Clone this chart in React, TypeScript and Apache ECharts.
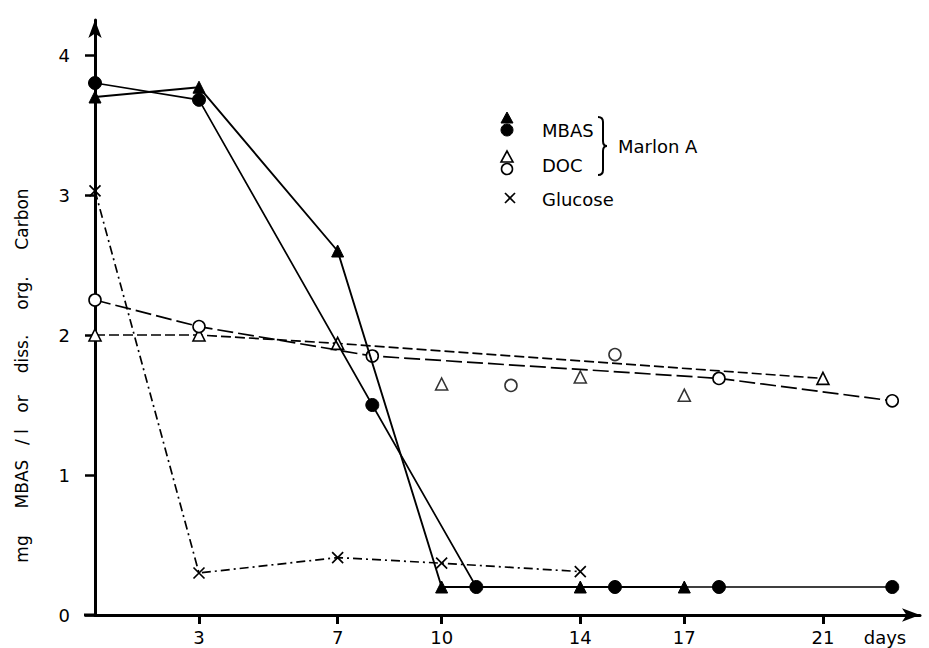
import React, { useEffect, useRef } from "react";
import * as echarts from "echarts";

// ---- data ----
const xTicks = [3, 7, 10, 14, 17, 21];
const yTicks = [0, 1, 2, 3, 4];

const mbasTriDays = [0, 3, 7, 10, 14, 17];
const mbasTriVals = [3.7, 3.77, 2.6, 0.2, 0.2, 0.2];
const mbasDotDays = [0, 3, 8, 11, 15, 18, 23];
const mbasDotVals = [3.8, 3.68, 1.5, 0.2, 0.2, 0.2, 0.2];

const docTriLineDays = [0, 3, 7, 21];
const docTriLineVals = [2.0, 2.0, 1.94, 1.69];
const docTriOtherDays = [10, 14, 17];
const docTriOtherVals = [1.65, 1.7, 1.57];

const docCircLineDays = [0, 3, 8, 18, 23];
const docCircLineVals = [2.25, 2.06, 1.85, 1.69, 1.53];
const docCircOtherDays = [12, 15];
const docCircOtherVals = [1.64, 1.86];

const glucoseDays = [0, 3, 7, 10, 14];
const glucoseVals = [3.03, 0.3, 0.41, 0.37, 0.31];

const yTitleWords = ["mg", "MBAS", "/ l", "or", "diss.", "org.", "Carbon"];

const zip = (xs: number[], ys: number[]) => xs.map((x, i) => [x, ys[i]]);

const BracePath = echarts.graphic.extendPath(
  "M0,0 Q5,0 5,5 L5,24 Q5,29 9,29 Q5,29 5,34 L5,53 Q5,58 0,58",
  {}
);
echarts.graphic.registerShape("brace", BracePath);

const FONT = "DejaVu Sans";
const CROSS = "path://M0,0L10,10M10,0L0,10";

export default function App() {
  const ref = useRef<HTMLDivElement>(null);

  useEffect(() => {
    if (!ref.current) return;
    const chart = echarts.init(ref.current, null, { renderer: "svg" });

    const titleCenters = [549, 484, 437, 404, 354, 293, 219];

    const txt = (text: string, x: number, y: number, size: number, align = "left", rotation = 0) => ({
      type: "text",
      x,
      y,
      rotation,
      style: {
        text,
        fill: "#000",
        font: `${size}px "${FONT}"`,
        align,
        textAlign: align,
        verticalAlign: "middle",
        textVerticalAlign: "middle",
      },
    });

    const option: any = {
      animation: false,
      backgroundColor: "#fff",
      grid: { left: 95, right: 9, top: 20, bottom: 33, containLabel: false },
      xAxis: {
        type: "value",
        min: 0,
        max: 23.8,
        axisLine: {
          show: true,
          onZero: false,
          lineStyle: { color: "#000", width: 3 },
          symbol: ["none", "arrow"],
          symbolSize: [10, 18],
        },
        axisTick: { show: true, length: 9, lineStyle: { color: "#000", width: 3 }, customValues: xTicks },
        axisLabel: { customValues: xTicks, margin: 13, color: "#000", fontSize: 18, fontFamily: FONT },
        splitLine: { show: false },
      },
      yAxis: {
        type: "value",
        min: 0,
        max: 4.25,
        axisLine: {
          show: true,
          onZero: false,
          lineStyle: { color: "#000", width: 3 },
          symbol: ["none", "arrow"],
          symbolSize: [10, 18],
        },
        axisTick: { show: true, length: 10, lineStyle: { color: "#000", width: 2.5 }, customValues: yTicks },
        axisLabel: { customValues: yTicks, margin: 25, color: "#000", fontSize: 18, fontFamily: FONT },
        splitLine: { show: false },
      },
      series: [
        {
          type: "line",
          data: zip(docTriLineDays, docTriLineVals),
          symbol: "triangle",
          symbolSize: 12,
          itemStyle: { color: "#fff", borderColor: "#000", borderWidth: 1.6 },
          lineStyle: { color: "#000", width: 1.7, type: [10, 4] },
          z: 2,
        },
        {
          type: "scatter",
          data: zip(docTriOtherDays, docTriOtherVals),
          symbol: "triangle",
          symbolSize: 12,
          itemStyle: { color: "#fff", borderColor: "#000", borderWidth: 1.6 },
          z: 2,
        },
        {
          type: "line",
          data: zip(docCircLineDays, docCircLineVals),
          symbol: "circle",
          symbolSize: 12,
          itemStyle: { color: "#fff", borderColor: "#000", borderWidth: 1.6 },
          lineStyle: { color: "#000", width: 1.7, type: [16, 5] },
          z: 2,
        },
        {
          type: "scatter",
          data: zip(docCircOtherDays, docCircOtherVals),
          symbol: "circle",
          symbolSize: 12,
          itemStyle: { color: "#fff", borderColor: "#000", borderWidth: 1.6 },
          z: 2,
        },
        {
          type: "line",
          data: zip(glucoseDays, glucoseVals),
          symbol: CROSS,
          symbolSize: 11,
          itemStyle: { color: "none", borderColor: "#000", borderWidth: 1.7 },
          lineStyle: { color: "#000", width: 1.7, type: [9, 4, 2, 4] },
          z: 3,
        },
        {
          type: "line",
          data: zip(mbasTriDays, mbasTriVals),
          symbol: "triangle",
          symbolSize: 12,
          itemStyle: { color: "#000", borderColor: "#000", borderWidth: 1 },
          lineStyle: { color: "#000", width: 1.9, type: "solid" },
          z: 4,
        },
        {
          type: "line",
          data: zip(mbasDotDays, mbasDotVals),
          symbol: "circle",
          symbolSize: 13,
          itemStyle: { color: "#000", borderColor: "#000", borderWidth: 1 },
          lineStyle: { color: "#000", width: 1.7, type: "solid" },
          z: 4,
        },
      ],
      graphic: [
        {
          type: "line",
          shape: { x1: 84, y1: 615, x2: 95, y2: 615 },
          style: { stroke: "#000", lineWidth: 3 },
        },
        txt("days", 885, 637, 18, "center"),
        ...yTitleWords.map((w, i) => txt(w, 22, titleCenters[i], 17, "center", Math.PI / 2)),
        // legend
        {
          type: "polygon",
          shape: { points: [[507, 112], [501, 123], [513, 123]] },
          style: { fill: "#000", stroke: "#000", lineWidth: 1 },
        },
        { type: "circle", shape: { cx: 507, cy: 130, r: 6 }, style: { fill: "#000", stroke: "#000" } },
        txt("MBAS", 542, 130, 18),
        {
          type: "polygon",
          shape: { points: [[507, 151], [501, 162], [513, 162]] },
          style: { fill: "#fff", stroke: "#000", lineWidth: 1.6 },
        },
        { type: "circle", shape: { cx: 507, cy: 169, r: 5.5 }, style: { fill: "#fff", stroke: "#000", lineWidth: 1.6 } },
        txt("DOC", 542, 165, 18),
        { type: "line", shape: { x1: 505, y1: 193, x2: 515, y2: 203 }, style: { stroke: "#000", lineWidth: 1.7 } },
        { type: "line", shape: { x1: 515, y1: 193, x2: 505, y2: 203 }, style: { stroke: "#000", lineWidth: 1.7 } },
        txt("Glucose", 542, 199, 18),
        {
          type: "brace",
          x: 598,
          y: 117,
          style: { fill: "none", stroke: "#000", lineWidth: 2 },
        },
        txt("Marlon A", 618, 146, 18),
      ],
    };

    chart.setOption(option);
    return () => chart.dispose();
  }, []);

  return <div ref={ref} style={{ width: 929, height: 648, position: "absolute", left: 0, top: 0 }} />;
}
